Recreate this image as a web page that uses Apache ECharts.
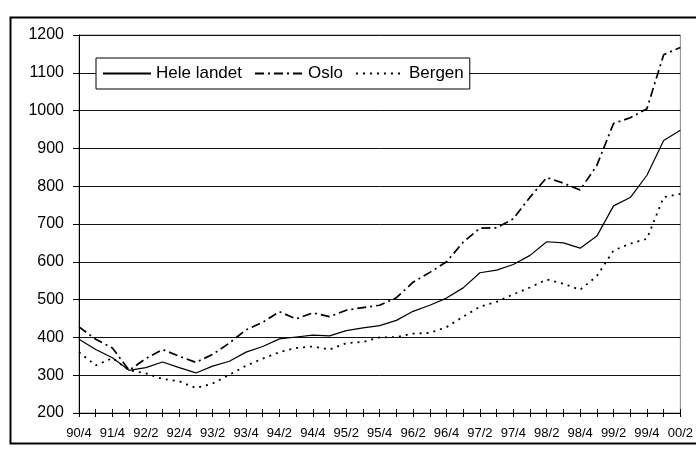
<!DOCTYPE html>
<html>
<head>
<meta charset="utf-8">
<script src="https://cdn.jsdelivr.net/npm/echarts@6/dist/echarts.min.js"></script>
<style>
    html, body { margin: 0; padding: 0; background: #fff; }
    #chart { width: 696px; height: 452px; }
</style>
</head>
<body>
<div id="chart"></div>
<script>
    // kvartaler (bare annenhver vises som etikett)
    var quarters = ['90/4','91/2','91/4','92/1','92/2','92/3','92/4','93/1','93/2','93/3','93/4',
        '94/1','94/2','94/3','94/4','95/1','95/2','95/3','95/4','96/1','96/2','96/3','96/4',
        '97/1','97/2','97/3','97/4','98/1','98/2','98/3','98/4','99/1','99/2','99/3','99/4',
        '00/1','00/2'];

    var heleLandet = [395, 368, 346, 313, 320, 335, 320, 306, 324, 337, 361, 376, 396, 401, 406, 404,
        418, 425, 431, 445, 469, 485, 504, 531, 571, 578, 593, 617, 653, 650, 636, 668, 748, 770, 829, 921, 948];

    var oslo = [428, 395, 372, 313, 344, 368, 350, 334, 355, 385, 420, 440, 468, 449, 465, 455,
        472, 479, 485, 505, 546, 572, 600, 652, 689, 690, 714, 771, 823, 808, 790, 855, 966, 981, 1005, 1148, 1167];

    var bergen = [361, 326, 345, 313, 305, 290, 284, 266, 278, 301, 325, 344, 361, 372, 376, 368,
        385, 388, 400, 401, 410, 412, 427, 455, 481, 494, 514, 532, 553, 542, 526, 562, 630, 648, 661, 771, 780];

    var font = "'Liberation Sans', Arial, sans-serif";

    var chartDom = document.getElementById('chart');
    var myChart = echarts.init(chartDom, null, {renderer: 'canvas'});

    var option = {
        animation: false,
        backgroundColor: '#fff',
        grid: {
            left: 79,
            right: 15,
            top: 35,
            bottom: 39,
            show: true,
            borderColor: '#888',
            borderWidth: 1
        },
        legend: {
            left: 96,
            top: 58,
            orient: 'horizontal',
            backgroundColor: '#fff',
            borderColor: '#000',
            borderWidth: 1,
            padding: [7, 6, 7, 6],
            itemWidth: 48,
            itemHeight: 14,
            itemGap: 12,
            itemStyle: {opacity: 0},
            textStyle: {fontFamily: font, fontSize: 17, color: '#000'},
            data: ['Hele landet', 'Oslo', 'Bergen']
        },
        graphic: [{
            // ramme rundt figuren
            type: 'rect',
            left: 8,
            top: 15,
            shape: {width: 700, height: 426},
            style: {fill: 'none', stroke: '#000', lineWidth: 2},
            silent: true
        }],
        xAxis: [{
            type: 'category',
            data: quarters,
            boundaryGap: false,
            axisLine: {lineStyle: {color: '#000', width: 1}},
            axisTick: {show: true, interval: 0, inside: false, length: 4, lineStyle: {color: '#000'}},
            axisLabel: {interval: 1, margin: 14, fontFamily: font, fontSize: 13, color: '#000'},
            splitLine: {show: false}
        }, {
            type: 'category',
            data: quarters,
            boundaryGap: false,
            position: 'bottom',
            axisLine: {show: false},
            axisTick: {show: true, interval: 0, inside: true, length: 4, lineStyle: {color: '#000'}},
            axisLabel: {show: false},
            splitLine: {show: false}
        }],
        yAxis: {
            type: 'value',
            min: 200,
            max: 1200,
            interval: 100,
            axisLine: {show: true, lineStyle: {color: '#000', width: 1}},
            axisTick: {show: true, length: 6, lineStyle: {color: '#000'}},
            axisLabel: {
                margin: 15, fontFamily: font, fontSize: 16, color: '#000',
                formatter: function (v) { return String(v); }
            },
            splitLine: {lineStyle: {color: '#111', width: 1}}
        },
        series: [{
            name: 'Hele landet',
            type: 'line',
            data: heleLandet,
            symbol: 'none',
            lineStyle: {color: '#000', width: 1.2, type: 'solid'},
            itemStyle: {color: '#000'},
            z: 3
        }, {
            name: 'Oslo',
            type: 'line',
            data: oslo,
            symbol: 'none',
            lineStyle: {color: '#000', width: 1.7, type: [9, 4, 2, 4]},
            itemStyle: {color: '#000'},
            z: 3
        }, {
            name: 'Bergen',
            type: 'line',
            data: bergen,
            symbol: 'none',
            lineStyle: {color: '#000', width: 1.8, type: [2, 5]},
            itemStyle: {color: '#000'},
            z: 3
        }]
    };

    myChart.setOption(option);
</script>
</body>
</html>
